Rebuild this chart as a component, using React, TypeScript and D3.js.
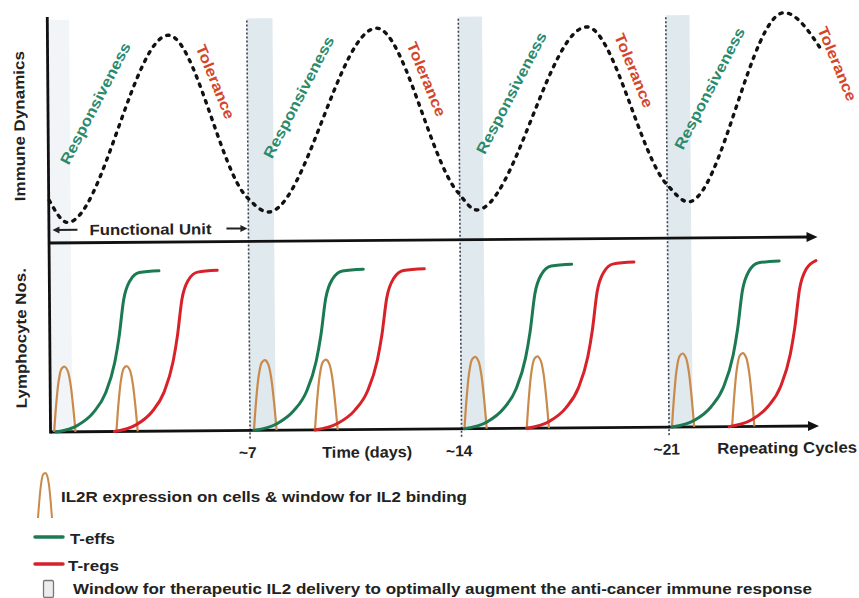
import { useEffect, useRef } from "react";
import * as d3 from "d3";

const W = 859;
const H = 598;

// cycle boundaries (days) and tick labels on the time axis
const CYCLE_DAYS = [0, 7, 14, 21];
const TICK_DAYS = [7, 14, 21];
const TICK_LABELS = ["~7", "~14", "~21"];
const END_DAY = 26.3;

// windows for therapeutic IL2 delivery (days)
const WINDOW_START = [0, 7, 14, 21];
const WINDOW_END = [0.75, 7.85, 14.8, 21.8];

// immune dynamics, dotted wave (day, relative level 0-100)
const WAVE_DAY = [0, 0.64, 4.24, 6.95, 7.66, 11.29, 13.93, 14.57, 18.33, 21, 21.71, 24.99, 26.28];
const WAVE_LEVEL = [18.6, 8.9, 89.9, 19.3, 12.7, 92.3, 20.8, 12.9, 92.1, 23.2, 15.7, 97.6, 80.6];

// lymphocyte numbers: T-effs and T-regs expansions
const TEFF_ONSET = [0.18, 7.13, 14.1, 21.1];
const TEFF_PLATEAU = [96, 96, 98, 99];
const TREG_ONSET = [2.23, 9.15, 16.2, 23.03];
const TREG_PLATEAU = [96, 96, 99, 100];
// expansion profile: days after onset, fraction of plateau
const EXPANSION_T = [0, 0.76, 1.32, 1.75, 2.08, 2.24, 2.41, 2.64, 2.97, 3.66];
const EXPANSION_F = [0, 0.04, 0.12, 0.24, 0.43, 0.59, 0.82, 0.94, 0.99, 1];

// IL2R expression pulses
const IL2R_ONSET = [0.11, 2.3, 7.13, 9.15, 14.1, 16.2, 21.1, 23.13];
const IL2R_PEAK = [39, 39, 42, 42, 43, 43, 44, 44];
const PULSE_T = [0, 0.09, 0.18, 0.28, 0.39, 0.49, 0.58, 0.67, 0.75];
const PULSE_F = [0, 0.47, 0.8, 0.97, 1, 0.94, 0.76, 0.41, 0];

// phase annotations (day, level on the immune dynamics axis)
const RESP_DAY = [1.64, 8.69, 15.76, 22.45];
const RESP_LEVEL = [60.6, 62.6, 63.7, 65];
const TOL_DAY = [5.89, 12.94, 19.92, 26.78];
const TOL_LEVEL = [69.6, 70, 73, 75.3];

const LEGEND_LABELS = [
  "IL2R expression on cells & window for IL2 binding",
  "T-effs",
  "T-regs",
  "Window for therapeutic IL2 delivery to optimally augment the anti-cancer immune response",
];

const FONT = "'Liberation Sans', Arial, Helvetica, sans-serif";
const GREEN = "#1c7a52";
const RED = "#d8222a";
const TAN = "#c98a4b";
const BAND = "#dde7ec";

export default function App() {
  const svgRef = useRef<SVGSVGElement>(null);

  useEffect(() => {
    if (!svgRef.current) return;
    const svg = d3.select(svgRef.current);
    svg.selectAll("*").remove();

    const x = d3.scaleLinear().domain(CYCLE_DAYS).range([50, 249, 460.5, 668]);
    const yTop = d3.scaleLinear().domain([0, 100]).range([240, 10]);
    const yBot = d3.scaleLinear().domain([0, 100]).range([429, 262]);

    // the scanned figure is slightly tilted
    const g = svg.append("g").attr("transform", "rotate(-0.45 430 300)");

    const addText = (
      parent: d3.Selection<SVGGElement, unknown, null, undefined>,
      txt: string,
      cx: number,
      cy: number,
      opts: { size?: number; fill?: string; angle?: number; len?: number; anchor?: string } = {}
    ) => {
      const t = parent
        .append("text")
        .attr("transform", `translate(${cx},${cy}) rotate(${opts.angle ?? 0})`)
        .attr("text-anchor", opts.anchor ?? "middle")
        .attr("dominant-baseline", "central")
        .attr("font-family", FONT)
        .attr("font-weight", "bold")
        .attr("font-size", opts.size ?? 16)
        .attr("fill", opts.fill ?? "#222")
        .text(txt);
      if (opts.len) t.attr("textLength", opts.len).attr("lengthAdjust", "spacingAndGlyphs");
      return t;
    };

    // IL2 delivery windows
    g.selectAll("rect.window")
      .data(WINDOW_START)
      .join("rect")
      .attr("class", "window")
      .attr("x", (d) => x(d))
      .attr("width", (d, i) => x(WINDOW_END[i]) - x(d))
      .attr("y", 17)
      .attr("height", yBot(0) - 17)
      .attr("fill", BAND)
      .attr("fill-opacity", (d, i) => (i === 0 ? 0.4 : 0.9));

    // cycle boundaries
    g.selectAll("line.cycle")
      .data(TICK_DAYS)
      .join("line")
      .attr("class", "cycle")
      .attr("x1", (d) => x(d))
      .attr("x2", (d) => x(d))
      .attr("y1", 19)
      .attr("y2", yBot(0) + 9)
      .attr("stroke", "#3a4252")
      .attr("stroke-width", 1.6)
      .attr("stroke-dasharray", "2 2");

    // axes
    const axisX = x(0) - 0.5;
    const tipX = 818;
    g.append("path")
      .attr("d", `M${axisX},14V${yBot(0) + 1.5}`)
      .attr("stroke", "#111")
      .attr("stroke-width", 2.8)
      .attr("fill", "none");
    [yTop(0), yBot(0)].forEach((yy) => {
      g.append("line")
        .attr("x1", axisX)
        .attr("x2", tipX - 8)
        .attr("y1", yy)
        .attr("y2", yy)
        .attr("stroke", "#111")
        .attr("stroke-width", 2.8);
      g.append("path")
        .attr("d", `M${tipX},${yy}L${tipX - 11},${yy - 5}L${tipX - 11},${yy + 5}Z`)
        .attr("fill", "#111");
    });

    // functional unit arrows
    const fuY = 227;
    const smallArrow = (from: number, to: number) => {
      const dir = Math.sign(to - from);
      g.append("line")
        .attr("x1", from)
        .attr("x2", to - dir * 4)
        .attr("y1", fuY)
        .attr("y2", fuY)
        .attr("stroke", "#222")
        .attr("stroke-width", 2);
      g.append("path")
        .attr("d", `M${to},${fuY}L${to - dir * 7},${fuY - 3.5}L${to - dir * 7},${fuY + 3.5}Z`)
        .attr("fill", "#222");
    };
    smallArrow(x(0) + 28, x(0) + 3);
    smallArrow(x(7) - 22, x(7) - 1);
    addText(g, "Functional Unit", 151, fuY, { size: 15, len: 122 });

    // immune dynamics wave
    const wave = d3
      .line<number>()
      .x((i) => x(WAVE_DAY[i]))
      .y((i) => yTop(WAVE_LEVEL[i]))
      .curve(d3.curveMonotoneX);
    g.append("path")
      .attr("d", wave(d3.range(WAVE_DAY.length)))
      .attr("fill", "none")
      .attr("stroke", "#111")
      .attr("stroke-width", 3.4)
      .attr("stroke-linecap", "round")
      .attr("stroke-dasharray", "2.4 6.4");

    // IL2R pulses
    IL2R_ONSET.forEach((onset, k) => {
      const pulse = d3
        .line<number>()
        .x((i) => x(onset + PULSE_T[i]))
        .y((i) => yBot(IL2R_PEAK[k] * PULSE_F[i]))
        .curve(d3.curveCatmullRom);
      g.append("path")
        .attr("d", pulse(d3.range(PULSE_T.length)))
        .attr("fill", "none")
        .attr("stroke", TAN)
        .attr("stroke-width", 2.2);
    });

    // T-effs / T-regs expansions
    const drawExpansion = (onsets: number[], plateaus: number[], color: string) => {
      onsets.forEach((onset, k) => {
        const idx = d3.range(EXPANSION_T.length).filter((i) => onset + EXPANSION_T[i] <= END_DAY);
        const curve = d3
          .line<number>()
          .x((i) => x(onset + EXPANSION_T[i]))
          .y((i) => yBot(plateaus[k] * EXPANSION_F[i]))
          .curve(d3.curveMonotoneX);
        g.append("path")
          .attr("d", curve(idx))
          .attr("fill", "none")
          .attr("stroke", color)
          .attr("stroke-width", 3)
          .attr("stroke-linecap", "round");
      });
    };
    drawExpansion(TEFF_ONSET, TEFF_PLATEAU, GREEN);
    drawExpansion(TREG_ONSET, TREG_PLATEAU, RED);

    // phase annotations
    RESP_DAY.forEach((d, i) =>
      addText(g, "Responsiveness", x(d), yTop(RESP_LEVEL[i]), {
        size: 15,
        fill: "#2a8a6c",
        angle: -62,
        len: 135,
      })
    );
    TOL_DAY.forEach((d, i) =>
      addText(g, "Tolerance", x(d), yTop(TOL_LEVEL[i]), {
        size: 15,
        fill: "#d3462b",
        angle: 68,
        len: 79,
      })
    );

    // axis titles and tick labels
    addText(g, "Immune Dynamics", 20.5, 123, { size: 15, angle: -90, len: 150 });
    addText(g, "Lymphocyte Nos.", 20.5, 335, { size: 15, angle: -90, len: 140 });
    TICK_DAYS.forEach((d, i) => addText(g, TICK_LABELS[i], x(d) - 2.5, 451, { size: 15.5 }));
    addText(g, "Time (days)", 366, 451.5, { size: 15.5, len: 90 });
    addText(g, "Repeating Cycles", 786, 450.5, { size: 15.5, len: 140 });

    // legend
    const lg = svg.append("g");
    const lx = d3.scaleLinear().domain([0, 0.75]).range([38, 52]);
    const ly = d3.scaleLinear().domain([0, 1]).range([518, 473]);
    lg.append("path")
      .attr(
        "d",
        d3
          .line<number>()
          .x((i) => lx(PULSE_T[i]))
          .y((i) => ly(PULSE_F[i]))
          .curve(d3.curveMonotoneX)(d3.range(PULSE_T.length))
      )
      .attr("fill", "none")
      .attr("stroke", TAN)
      .attr("stroke-width", 2);
    addText(lg, LEGEND_LABELS[0], 61, 496, { size: 15.5, anchor: "start", len: 406 });

    [GREEN, RED].forEach((c, i) => {
      const yy = i === 0 ? 537 : 564;
      lg.append("line")
        .attr("x1", 35)
        .attr("x2", 63)
        .attr("y1", yy)
        .attr("y2", yy)
        .attr("stroke", c)
        .attr("stroke-width", 3.5)
        .attr("stroke-linecap", "round");
      addText(lg, LEGEND_LABELS[1 + i], i === 0 ? 70 : 68, yy + 1, {
        size: 15,
        anchor: "start",
        len: i === 0 ? 45 : 51,
      });
    });

    lg.append("rect")
      .attr("x", 43.5)
      .attr("y", 580.5)
      .attr("width", 10)
      .attr("height", 17)
      .attr("rx", 1.5)
      .attr("fill", "#ececec")
      .attr("stroke", "#777")
      .attr("stroke-width", 1.3);
    addText(lg, LEGEND_LABELS[3], 73, 588, { size: 15.5, anchor: "start", len: 739 });
  }, []);

  return (
    <div style={{ position: "absolute", left: 0, top: 0, width: W, height: H, background: "#fff" }}>
      <svg ref={svgRef} width={W} height={H} style={{ display: "block" }} />
    </div>
  );
}
